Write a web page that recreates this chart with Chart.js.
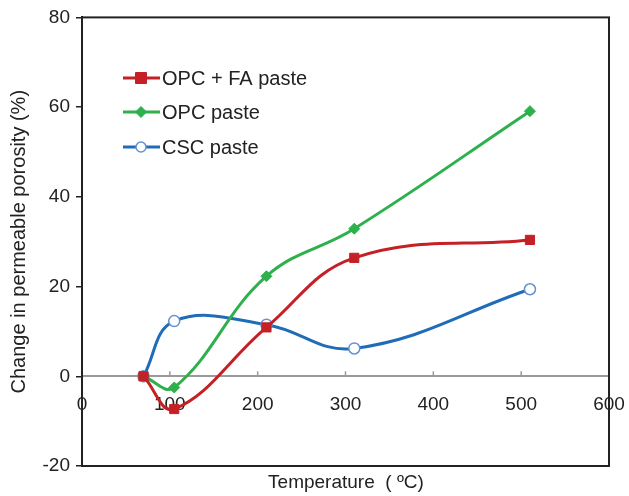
<!DOCTYPE html>
<html>
<head>
<meta charset="utf-8">
<script src="https://cdn.jsdelivr.net/npm/chart.js@4"></script>
<style>
  html, body { margin: 0; padding: 0; background: #fff; }
  #wrap { width: 629px; height: 496px; }
</style>
</head>
<body>
<div id="wrap"><canvas id="myChart"></canvas></div>
<script>
// temperatures (°C) and change in permeable porosity (%)
const temps = [70, 105, 210, 310, 510];
const opcFa = [0, -7.3, 10.9, 26.4, 30.4];
const opc = [0, -2.5, 22.3, 32.9, 59.1];
const csc = [0, 12.3, 11.5, 6.2, 19.4];
const seriesNames = ['OPC + FA paste', 'OPC paste', 'CSC paste'];

const FONT = 'Arial, "Liberation Sans", sans-serif';

const pts = vals => temps.map((t, i) => ({ x: t, y: vals[i] }));

// frame, inside ticks on the zero line, legend and x title
const decor = {
  id: 'decor',
  afterDatasetsDraw(chart) {
    const { ctx, chartArea: a, scales } = chart;
    ctx.save();
    // box round the plot
    ctx.strokeStyle = '#222';
    ctx.lineWidth = 2;
    ctx.strokeRect(a.left, a.top, a.right - a.left, a.bottom - a.top);

    // short upward ticks on the x axis line
    const y0 = scales.y.getPixelForValue(0);
    ctx.strokeStyle = '#999';
    ctx.lineWidth = 1.5;
    scales.x.ticks.forEach(t => {
      if (t.value <= 0 || t.value >= 600) return;
      const px = scales.x.getPixelForValue(t.value);
      ctx.beginPath();
      ctx.moveTo(px, y0);
      ctx.lineTo(px, y0 - 5);
      ctx.stroke();
    });

    // legend
    const rows = [78, 112, 147];
    chart.data.datasets.forEach((ds, i) => {
      const y = rows[i];
      ctx.strokeStyle = ds.borderColor;
      ctx.lineWidth = 3;
      ctx.beginPath();
      ctx.moveTo(123, y);
      ctx.lineTo(160, y);
      ctx.stroke();
      const cx = 141;
      ctx.fillStyle = ds.pointBackgroundColor;
      ctx.strokeStyle = ds.pointBorderColor;
      ctx.lineWidth = ds.pointBorderWidth;
      ctx.beginPath();
      if (ds.pointStyle === 'rect') {
        ctx.rect(cx - 5.5, y - 5.5, 11, 11);
      } else if (ds.pointStyle === 'rectRot') {
        ctx.moveTo(cx, y - 5.5); ctx.lineTo(cx + 5.5, y);
        ctx.lineTo(cx, y + 5.5); ctx.lineTo(cx - 5.5, y);
        ctx.closePath();
      } else {
        ctx.arc(cx, y, 5, 0, Math.PI * 2);
      }
      ctx.fill();
      ctx.stroke();
      ctx.fillStyle = '#222';
      ctx.font = '20px ' + FONT;
      ctx.textBaseline = 'middle';
      ctx.textAlign = 'left';
      ctx.fillText(ds.label, 162, y + 1);
    });

    // x axis title
    ctx.fillStyle = '#222';
    ctx.font = '19px ' + FONT;
    ctx.textAlign = 'center';
    ctx.textBaseline = 'middle';
    ctx.fillText('Temperature\u00a0\u00a0( \u00baC)', 346, 483);
    ctx.restore();
  }
};

const ctx = document.getElementById('myChart');

new Chart(ctx, {
  type: 'line',
  data: {
    datasets: [
      {
        label: seriesNames[0],
        data: pts(opcFa),
        borderColor: 'rgb(196,32,38)',
        pointBackgroundColor: 'rgb(196,32,38)',
        pointBorderColor: 'rgb(196,32,38)',
        pointBorderWidth: 1,
        pointStyle: 'rect',
        pointRadius: 6.5,
        borderWidth: 3,
        tension: 0.4
      },
      {
        label: seriesNames[1],
        data: pts(opc),
        borderColor: 'rgb(46,176,76)',
        pointBackgroundColor: 'rgb(46,176,76)',
        pointBorderColor: 'rgb(46,176,76)',
        pointBorderWidth: 1,
        pointStyle: 'rectRot',
        pointRadius: 5.5,
        borderWidth: 3,
        tension: 0.4
      },
      {
        label: seriesNames[2],
        data: pts(csc),
        borderColor: 'rgb(32,108,184)',
        pointBackgroundColor: '#fff',
        pointBorderColor: 'rgb(100,145,210)',
        pointBorderWidth: 1.5,
        pointStyle: 'circle',
        pointRadius: 5.5,
        borderWidth: 3,
        tension: 0.4
      }
    ]
  },
  options: {
    responsive: true,
    maintainAspectRatio: false,
    animation: false,
    layout: { padding: { top: 16, right: 20, bottom: 30, left: 0 } },
    plugins: {
      legend: { display: false },
      tooltip: { enabled: false }
    },
    scales: {
      x: {
        type: 'linear',
        position: { y: 0 },
        min: 0,
        max: 600,
        // let the end labels hang over the frame instead of shrinking the plot
        afterFit: s => { s.paddingLeft = 0; s.paddingRight = 0; },
        grid: { display: false },
        border: { color: '#9a9a9a', width: 2 },
        ticks: {
          stepSize: 100,
          padding: 9,
          color: '#222',
          font: { family: FONT, size: 19 }
        }
      },
      y: {
        min: -20,
        max: 80,
        afterFit: s => { s.width = 82; },
        grid: { drawOnChartArea: false, tickLength: 6, color: '#222', lineWidth: 1.5 },
        border: { color: '#111', width: 2 },
        ticks: {
          stepSize: 20,
          padding: 6,
          color: '#222',
          font: { family: FONT, size: 19 }
        },
        title: {
          display: true,
          text: 'Change in permeable porosity (%)',
          color: '#222',
          font: { family: FONT, size: 20 },
          padding: { top: 7, bottom: 0 }
        }
      }
    }
  },
  plugins: [decor]
});
</script>
</body>
</html>
